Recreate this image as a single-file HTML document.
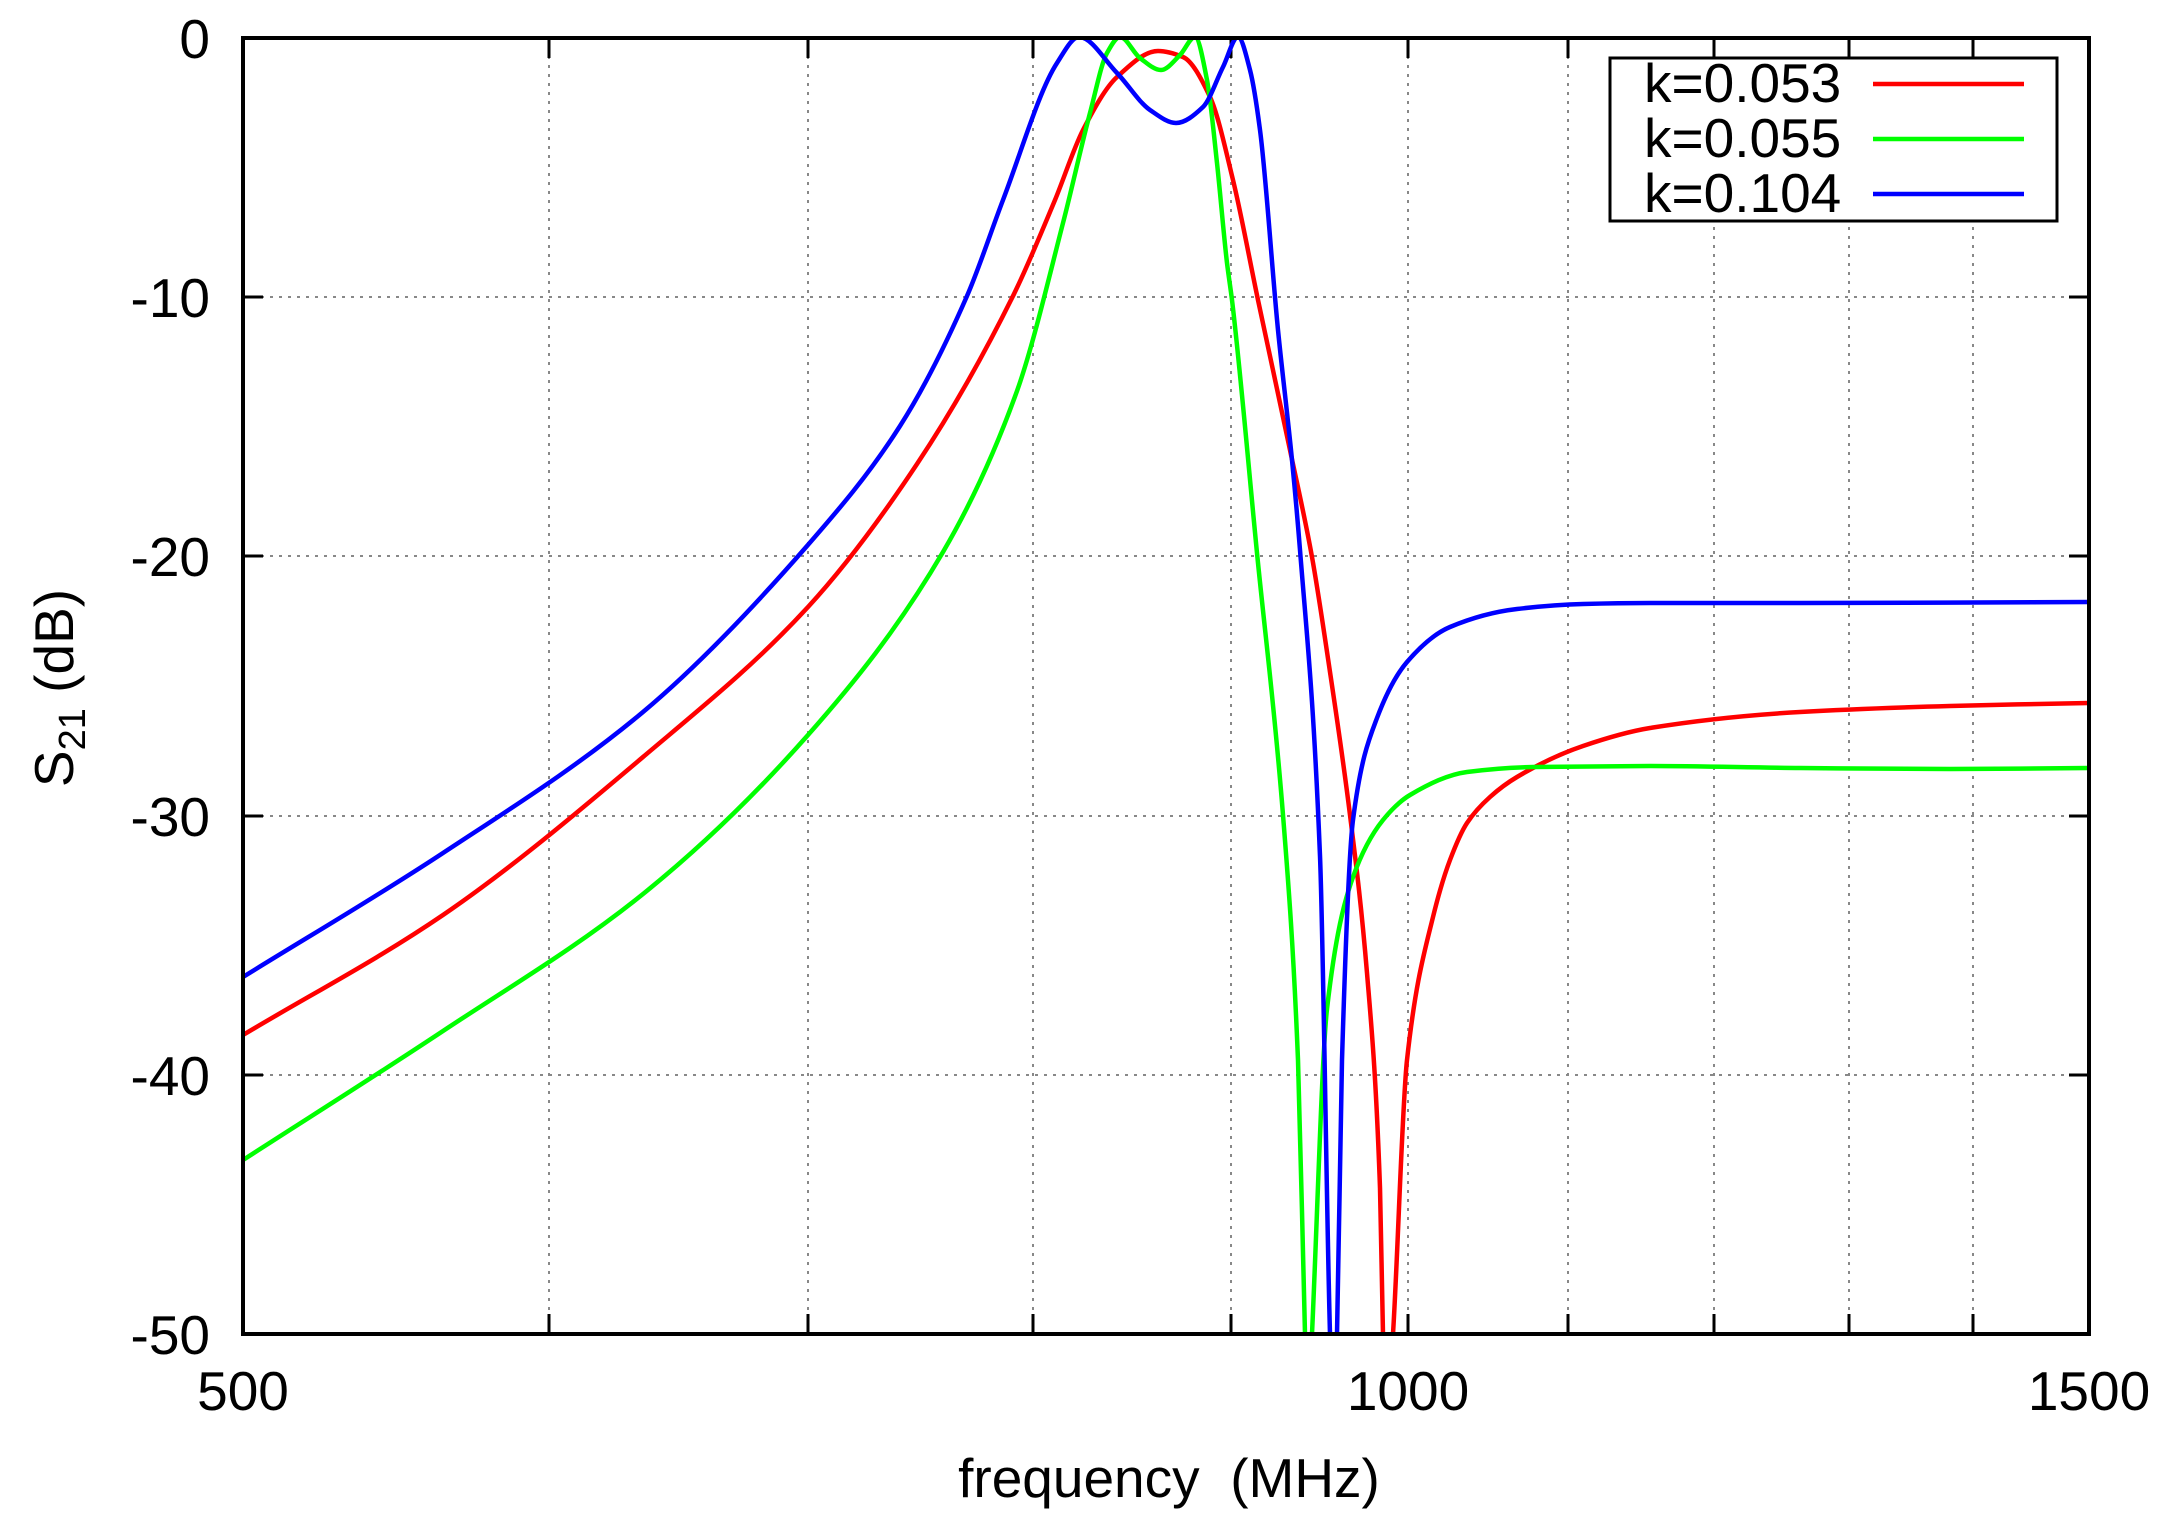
<!DOCTYPE html>
<html><head><meta charset="utf-8"><style>
html,body{margin:0;padding:0;background:#fff;}
svg{display:block;}
text{font-family:"Liberation Sans",Arial,sans-serif;fill:#000;}
</style></head><body>
<svg id="s" width="2164" height="1520" viewBox="0 0 2164 1520" xmlns="http://www.w3.org/2000/svg">
<defs><clipPath id="c"><rect x="243" y="38" width="1846" height="1296"/></clipPath></defs>
<g stroke="#888" stroke-width="2" stroke-dasharray="3,6" fill="none">
<line x1="549" y1="38" x2="549" y2="1334"/>
<line x1="808" y1="38" x2="808" y2="1334"/>
<line x1="1033" y1="38" x2="1033" y2="1334"/>
<line x1="1231" y1="38" x2="1231" y2="1334"/>
<line x1="1408" y1="38" x2="1408" y2="1334"/>
<line x1="1568" y1="38" x2="1568" y2="1334"/>
<line x1="1714" y1="38" x2="1714" y2="1334"/>
<line x1="1849" y1="38" x2="1849" y2="1334"/>
<line x1="1973" y1="38" x2="1973" y2="1334"/>
<line x1="243" y1="297" x2="2089" y2="297"/>
<line x1="243" y1="556" x2="2089" y2="556"/>
<line x1="243" y1="816" x2="2089" y2="816"/>
<line x1="243" y1="1075" x2="2089" y2="1075"/>
</g>
<g stroke="#000" stroke-width="3">
<path d="M549 38v20M808 38v20M1033 38v20M1231 38v20M1408 38v20M1568 38v20M1714 38v20M1849 38v20M1973 38v20
M549 1334v-20M808 1334v-20M1033 1334v-20M1231 1334v-20M1408 1334v-20M1568 1334v-20M1714 1334v-20M1849 1334v-20M1973 1334v-20
M243 297h20M243 556h20M243 816h20M243 1075h20M2089 297h-20M2089 556h-20M2089 816h-20M2089 1075h-20"/>
</g>
<g clip-path="url(#c)" fill="none" stroke-width="4.5" stroke-linejoin="round">
<polyline class="cv" stroke="#ff0000" points="243,1035 443,915 643,757 808,607 917,464 1013,296 1055,200 1083,130 1117,77 1158,51 1183,57 1210,97 1233,180 1258,300 1290,450 1312,557 1330,672 1350,815 1367,973 1380,1188 1383,1334 1387,1420 1393,1334 1407,1060 1433,917 1450,860 1467,823 1490,797 1517,777 1583,746 1650,728 1800,712 1950,706 2089,703"/>
<polyline class="cv" stroke="#00ff00" points="243,1160 443,1031 643,894 808,735 943,552 1017,391 1063,223 1090,113 1107,53 1120,37 1140,58 1161,70 1180,55 1195,37 1207,80 1217,163 1227,263 1232,300 1257,553 1283,815 1298,1060 1305,1334 1308,1420 1312,1334 1327,1009 1353,877 1383,820 1410,795 1467,772 1533,767 1650,766 1800,768 1950,769 2089,768"/>
<polyline class="cv" stroke="#0000ff" points="243,977 443,853 643,712 807,546 900,426 967,296 1003,200 1057,63 1079,37 1117,73 1150,110 1176,123 1203,107 1223,67 1238,37 1250,70 1260,130 1278,330 1292,460 1300,550 1320,856 1330,1334 1333,1420 1337,1334 1342,1060 1353,820 1377,718 1407,662 1450,627 1517,609 1583,604 1650,603 1800,603 2089,602"/>
</g>
<rect x="243" y="38" width="1846" height="1296" fill="none" stroke="#000" stroke-width="4"/>
<g font-size="55" text-anchor="end">
<text x="210" y="58">0</text>
<text x="210" y="317">-10</text>
<text x="210" y="576">-20</text>
<text x="210" y="836">-30</text>
<text x="210" y="1095">-40</text>
<text x="210" y="1354">-50</text>
</g>
<g font-size="55" text-anchor="middle">
<text x="243" y="1410">500</text>
<text x="1408" y="1410">1000</text>
<text x="2089" y="1410">1500</text>
<text x="1169" y="1497">frequency &#160;(MHz)</text>
</g>
<text font-size="55" text-anchor="middle" transform="translate(73,688) rotate(-90)">S<tspan font-size="38" dy="12">21</tspan><tspan dy="-12"> (dB)</tspan></text>
<rect x="1610" y="58" width="447" height="163" fill="#fff" stroke="#000" stroke-width="3"/>
<g font-size="55">
<text x="1644" y="102">k=0.053</text>
<text x="1644" y="157">k=0.055</text>
<text x="1644" y="212">k=0.104</text>
</g>
<g stroke-width="4.5">
<line x1="1873" y1="84" x2="2024" y2="84" stroke="#ff0000"/>
<line x1="1873" y1="139" x2="2024" y2="139" stroke="#00ff00"/>
<line x1="1873" y1="194" x2="2024" y2="194" stroke="#0000ff"/>
</g>
</svg>
<script>
document.querySelectorAll('polyline.cv').forEach(function(pl){
  var p=pl.getAttribute('points').trim().split(/\s+/).map(function(s){var a=s.split(',');return[+a[0],+a[1]];});
  var n=p.length,d=[],m=[];
  for(var i=0;i<n-1;i++){d[i]=(p[i+1][1]-p[i][1])/(p[i+1][0]-p[i][0]);}
  m[0]=d[0];m[n-1]=d[n-2];
  for(var i=1;i<n-1;i++){
    if(d[i-1]*d[i]<=0){m[i]=0;}
    else{var h0=p[i][0]-p[i-1][0],h1=p[i+1][0]-p[i][0];var w1=2*h1+h0,w2=h1+2*h0;m[i]=(w1+w2)/(w1/d[i-1]+w2/d[i]);}
  }
  var s='M'+p[0][0]+' '+p[0][1];
  for(var i=0;i<n-1;i++){
    var h=p[i+1][0]-p[i][0];
    var c1x=p[i][0]+h/3,c1y=p[i][1]+m[i]*h/3;
    var c2x=p[i+1][0]-h/3,c2y=p[i+1][1]-m[i+1]*h/3;
    s+=' C'+c1x.toFixed(1)+' '+c1y.toFixed(1)+' '+c2x.toFixed(1)+' '+c2y.toFixed(1)+' '+p[i+1][0]+' '+p[i+1][1];
  }
  var np=document.createElementNS('http://www.w3.org/2000/svg','path');
  np.setAttribute('d',s);np.setAttribute('stroke',pl.getAttribute('stroke'));
  np.setAttribute('fill','none');np.setAttribute('stroke-width','4.5');np.setAttribute('stroke-linejoin','round');
  pl.parentNode.replaceChild(np,pl);
});
</script>
</body></html>
